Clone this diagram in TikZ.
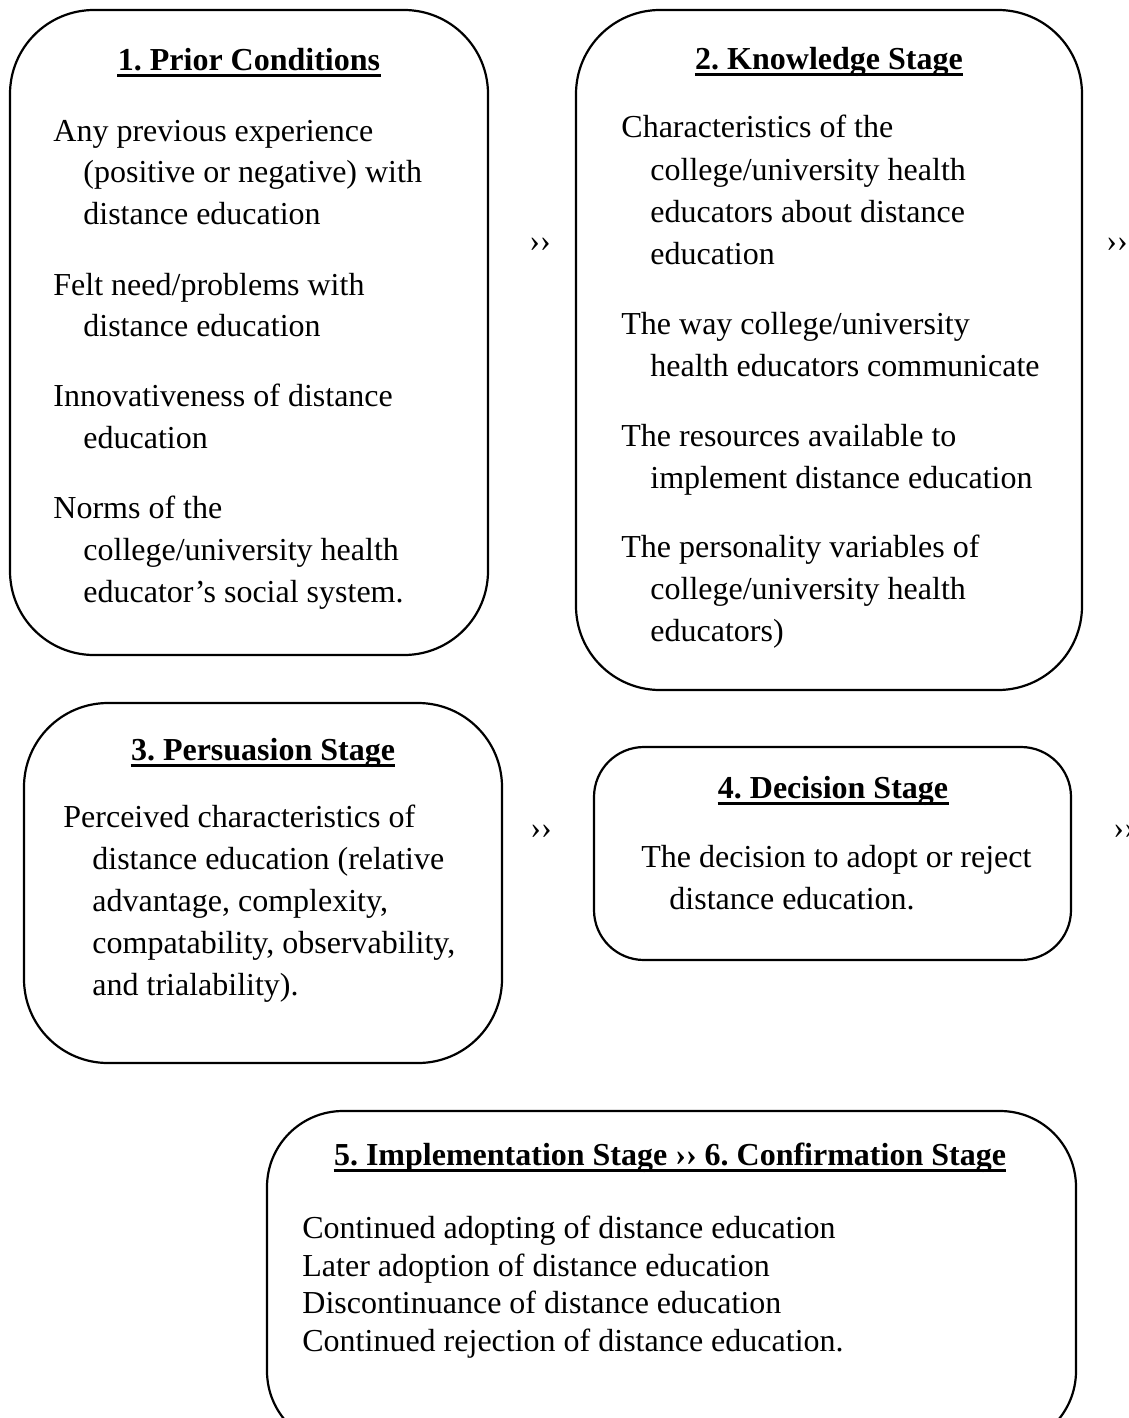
\documentclass[tikz,border=0pt]{standalone}
\usepackage{fontspec}
\setmainfont{Liberation Serif}
\frenchspacing
\newcommand{\bodyfont}{\fontsize{16}{21}\selectfont}
\begin{document}
\begin{tikzpicture}[x=0.5pt, y=-0.5pt,
  stagebox/.style={draw, line width=1.1pt, rounded corners=42pt, inner sep=0pt},
  stagetitle/.style={anchor=base, inner sep=0pt, font=\bodyfont\bfseries},
  itemline/.style={anchor=base west, inner sep=0pt, font=\bodyfont},
  stagemark/.style={anchor=base, inner sep=0pt, font=\bodyfont},
  titlerule/.style={line width=1.5pt}]
\useasboundingbox (0,0) rectangle (1129,1418);
\node[stagebox, minimum width=239pt, minimum height=322.5pt] (b1) at (249,332.5) {};
\node[stagebox, minimum width=253pt, minimum height=340pt] (b2) at (829,350) {};
\node[stagebox, minimum width=239pt, minimum height=180pt] (b3) at (263,883) {};
\node[stagebox, rounded corners=25pt, minimum width=238.5pt, minimum height=106.5pt] (b4) at (832.5,853.5) {};
\node[stagebox, rounded corners=38pt, minimum width=404.5pt, minimum height=168pt] (b5) at (671.5,1279) {};
\node[stagetitle] (t1) at (249,71) {1. Prior Conditions};
\node[stagetitle] (t2) at (829,70) {2. Knowledge Stage};
\node[stagetitle] (t3) at (263,760) {3. Persuasion Stage};
\node[stagetitle] (t4) at (833,798) {4. Decision Stage};
\node[stagetitle] (t5) at (670,1165) {5. Implementation Stage ›› 6. Confirmation Stage};
\foreach \t in {t1,t2,t3,t4,t5}
  \draw[titlerule] ([yshift=-2.5pt]\t.base west) -- ([yshift=-2.5pt]\t.base east);
\node[itemline] (p1a) at (53,141) {Any previous experience};
\node[itemline] (p1b) at (83,182) {(positive or negative) with};
\node[itemline] (p1c) at (83,224) {distance education};
\node[itemline] (p1d) at (53,295) {Felt need/problems with};
\node[itemline] (p1e) at (83,336) {distance education};
\node[itemline] (p1f) at (53,406) {Innovativeness of distance};
\node[itemline] (p1g) at (83,448) {education};
\node[itemline] (p1h) at (53,518) {Norms of the};
\node[itemline] (p1i) at (83,560) {college/university health};
\node[itemline] (p1j) at (83,602) {educator’s social system.};
\node[itemline] (p2a) at (621,138) {Characteristics of the};
\node[itemline] (p2b) at (650,180) {college/university health};
\node[itemline] (p2c) at (650,222) {educators about distance};
\node[itemline] (p2d) at (650,264) {education};
\node[itemline] (p2e) at (621,334) {The way college/university};
\node[itemline] (p2f) at (650,376) {health educators communicate};
\node[itemline] (p2g) at (621,446) {The resources available to};
\node[itemline] (p2h) at (650,488) {implement distance education};
\node[itemline] (p2i) at (621,557) {The personality variables of};
\node[itemline] (p2j) at (650,599) {college/university health};
\node[itemline] (p2k) at (650,641) {educators)};
\node[itemline] (p3a) at (63,827) {Perceived characteristics of};
\node[itemline] (p3b) at (92,869) {distance education (relative};
\node[itemline] (p3c) at (92,911) {advantage, complexity,};
\node[itemline] (p3d) at (92,953) {compatability, observability,};
\node[itemline] (p3e) at (92,995) {and trialability).};
\node[itemline] (p4a) at (641,867) {The decision to adopt or reject};
\node[itemline] (p4b) at (669,909) {distance education.};
\node[itemline] (p5a) at (302,1238) {Continued adopting of distance education};
\node[itemline] (p5b) at (302,1276) {Later adoption of distance education};
\node[itemline] (p5c) at (302,1313) {Discontinuance of distance education};
\node[itemline] (p5d) at (302,1351) {Continued rejection of distance education.};
\node[stagemark] (m1) at (540,251) {››};
\node[stagemark] (m2) at (1117,251) {››};
\node[stagemark] (m3) at (541,838) {››};
\node[stagemark] (m4) at (1124,838) {››};
\end{tikzpicture}
\end{document}
